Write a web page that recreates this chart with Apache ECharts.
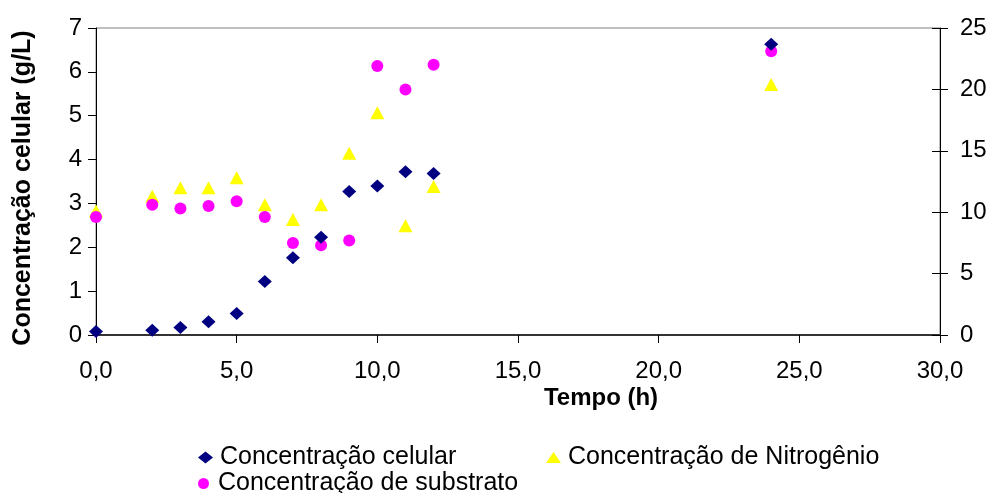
<!DOCTYPE html>
<html>
<head>
<meta charset="utf-8">
<script src="https://cdn.jsdelivr.net/npm/echarts@6/dist/echarts.min.js"></script>
<style>
  html, body { margin: 0; padding: 0; background: #fff; }
  #chart { width: 991px; height: 493px; }
</style>
</head>
<body>
<div id="chart"></div>
<script>
// Sampling times (h)
const tempo = [0, 2, 3, 4, 5, 6, 7, 8, 9, 10, 11, 12, 24];
// Cell concentration (g/L) - left axis
const celular = [0.08, 0.11, 0.17, 0.30, 0.49, 1.22, 1.76, 2.23, 3.27, 3.40, 3.72, 3.68, 6.63];
// Nitrogen concentration - right axis
const nitrogenio = [10.1, 11.3, 12.0, 12.0, 12.8, 10.6, 9.4, 10.6, 14.8, 18.1, 8.9, 12.1, 20.4];
// Substrate concentration - right axis
const substrato = [9.6, 10.6, 10.3, 10.5, 10.9, 9.6, 7.5, 7.3, 7.7, 21.9, 20.0, 22.0, 23.1];

const xTicks = { min: 0, max: 30, interval: 5 };
const yLeftTicks = { min: 0, max: 7, interval: 1 };
const yRightTicks = { min: 0, max: 25, interval: 5 };

const FONT = 'Liberation Sans, Arial, sans-serif';
const pairs = ys => tempo.map((t, i) => [t, ys[i]]);

const chart = echarts.init(document.getElementById('chart'), null, { renderer: 'canvas' });

const legendBase = {
  orient: 'horizontal',
  itemGap: 0,
  textStyle: { fontFamily: FONT, fontSize: 25, color: '#000', padding: [0, 0, 0, 2] },
  selectedMode: false
};

chart.setOption({
  animation: false,
  backgroundColor: '#fff',
  grid: {
    left: 96, right: 51, top: 28, bottom: 158,
    show: true, borderColor: '#808080', borderWidth: 1
  },
  xAxis: {
    type: 'value',
    min: xTicks.min, max: xTicks.max, interval: xTicks.interval,
    axisLine: { show: true, onZero: false, lineStyle: { color: '#333', width: 2 } },
    axisTick: { show: true, inside: false, length: 8, lineStyle: { color: '#000' } },
    axisLabel: {
      fontFamily: FONT, fontSize: 24, color: '#000', margin: 24,
      formatter: v => v.toFixed(1).replace('.', ',')
    },
    splitLine: { show: false }
  },
  yAxis: [
    {
      type: 'value', position: 'left',
      min: yLeftTicks.min, max: yLeftTicks.max, interval: yLeftTicks.interval,
      axisLine: { show: true, lineStyle: { color: '#000', width: 1 } },
      axisTick: { show: true, inside: false, length: 8, lineStyle: { color: '#000' } },
      axisLabel: { fontFamily: FONT, fontSize: 24, color: '#000', margin: 14 },
      splitLine: { show: false }
    },
    {
      type: 'value', position: 'right',
      min: yRightTicks.min, max: yRightTicks.max, interval: yRightTicks.interval,
      axisLine: { show: true, lineStyle: { color: '#000', width: 1 } },
      axisTick: { show: true, inside: false, length: 8, lineStyle: { color: '#000' } },
      axisLabel: { fontFamily: FONT, fontSize: 24, color: '#000', margin: 20 },
      splitLine: { show: false }
    },
    {
      // inner half of the crossing ticks on the right axis
      type: 'value', position: 'right',
      min: yRightTicks.min, max: yRightTicks.max, interval: yRightTicks.interval,
      axisLine: { show: false },
      axisTick: { show: true, inside: true, length: 8, lineStyle: { color: '#000' } },
      axisLabel: { show: false },
      splitLine: { show: false }
    }
  ],
  legend: [
    Object.assign({}, legendBase, {
      left: 193, top: 440, itemWidth: 15, itemHeight: 12,
      data: [{ name: 'Concentração celular', icon: 'diamond' }]
    }),
    Object.assign({}, legendBase, {
      left: 541, top: 440, itemWidth: 15, itemHeight: 11,
      data: [{ name: 'Concentração de Nitrogênio', icon: 'triangle' }]
    }),
    Object.assign({}, legendBase, {
      left: 193, top: 466, itemWidth: 15, itemHeight: 11,
      data: [{ name: 'Concentração de substrato', icon: 'circle' }]
    })
  ],
  series: [
    {
      name: 'Concentração de Nitrogênio', type: 'scatter', yAxisIndex: 1,
      symbol: 'triangle', symbolSize: [14, 13],
      itemStyle: { color: '#FFFF00', opacity: 1 },
      data: pairs(nitrogenio), z: 3
    },
    {
      name: 'Concentração de substrato', type: 'scatter', yAxisIndex: 1,
      symbol: 'circle', symbolSize: 12,
      itemStyle: { color: '#FF00FF', opacity: 1 },
      data: pairs(substrato), z: 4
    },
    {
      name: 'Concentração celular', type: 'scatter', yAxisIndex: 0,
      symbol: 'diamond', symbolSize: [14, 13],
      itemStyle: { color: '#000080', opacity: 1 },
      data: pairs(celular), z: 5
    }
  ],
  graphic: [
    {
      type: 'text', x: 23, y: 188, rotation: Math.PI / 2,
      style: {
        text: 'Concentração celular (g/L)', fontFamily: FONT, fontSize: 25,
        fontWeight: 'bold', fill: '#000', align: 'center', verticalAlign: 'middle'
      }
    },
    {
      type: 'text', x: 601, y: 398,
      style: {
        text: 'Tempo (h)', fontFamily: FONT, fontSize: 24,
        fontWeight: 'bold', fill: '#000', align: 'center', verticalAlign: 'middle'
      }
    }
  ]
});
</script>
</body>
</html>
